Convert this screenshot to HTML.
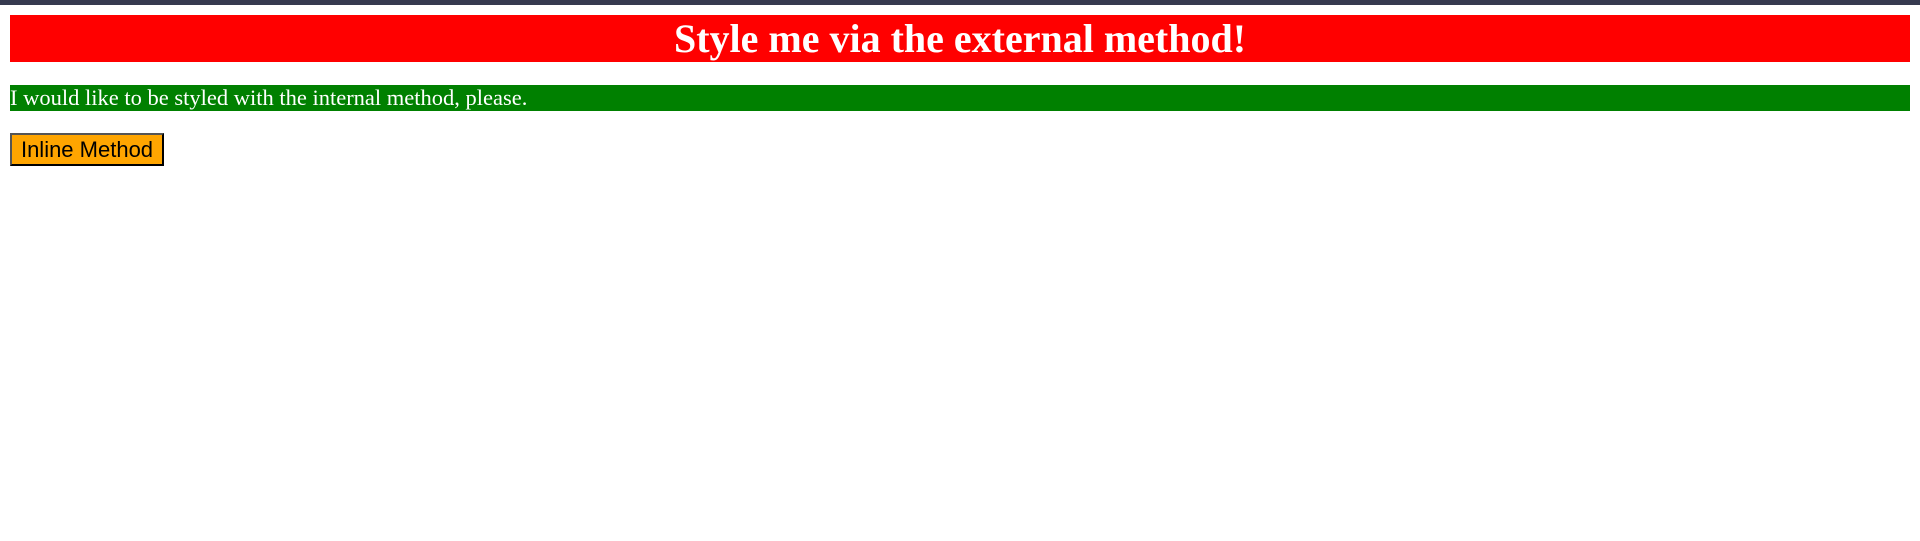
<!DOCTYPE html>
<html><head><style>
html,body{margin:0;padding:0;background:#fff;width:1920px;height:541px;overflow:hidden}
.bar{height:5px;background:#363a4f}
h1{margin:10px 10px 0 10px;height:47px;background:#f00;color:#fff;text-align:center;font:bold 40px/47px "Liberation Serif",serif}
p{margin:23px 10px 0 10px;height:26px;background:#008000;color:#fff;font:22.5px/26px "Liberation Serif",serif}
button{display:block;margin:22px 0 0 10px;width:154px;height:33px;background:#ffa500;border:2px solid #000;border-color:#555 #000 #000 #555;font:22px/29px "Liberation Sans",sans-serif;color:#000;padding:0}
</style></head><body>
<div class="bar"></div>
<h1>Style me via the external method!</h1>
<p>I would like to be styled with the internal method, please.</p>
<button>Inline Method</button>
</body></html>
